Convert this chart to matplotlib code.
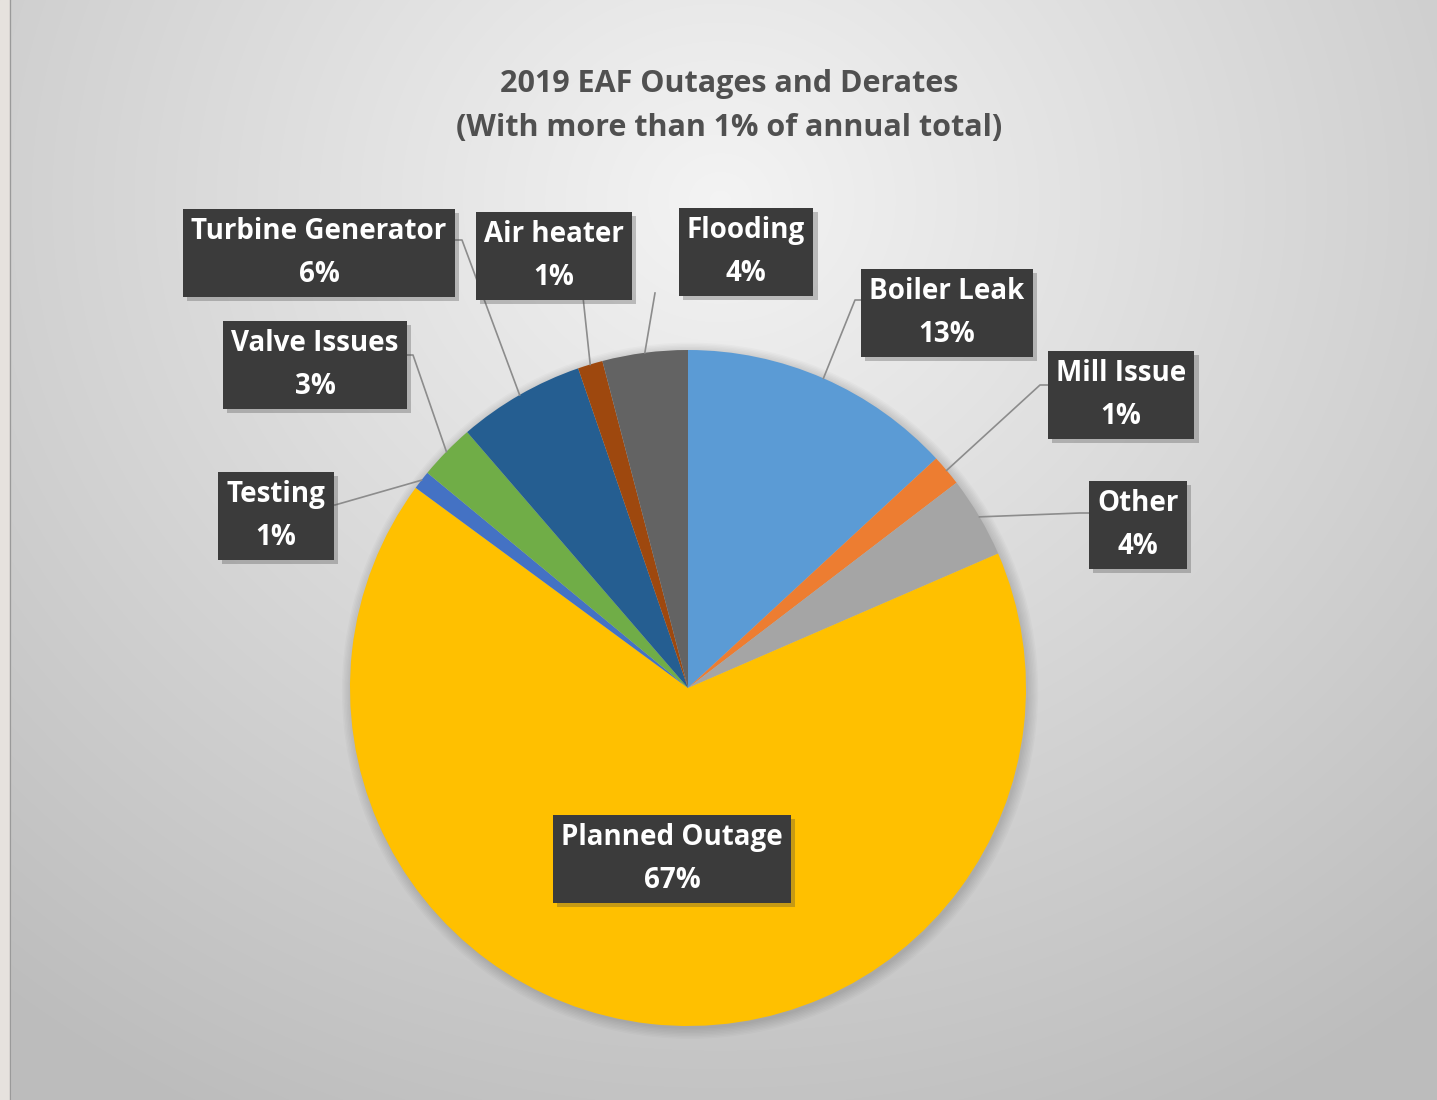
import numpy as np
import matplotlib
matplotlib.use('Agg')
import matplotlib.pyplot as plt
from matplotlib.lines import Line2D
from matplotlib.patches import Circle
import matplotlib.patheffects as pe

# data (clockwise from 12 o'clock)
labels = ['Boiler Leak', 'Mill Issue', 'Other', 'Planned Outage', 'Testing',
          'Valve Issues', 'Turbine Generator', 'Air heater', 'Flooding']
shares = [13.2, 1.5, 3.9, 67.0, 0.9, 2.7, 6.1, 1.2, 4.1]
pct_text = ['13%', '1%', '4%', '67%', '1%', '3%', '6%', '1%', '4%']
colors = ['#5b9bd5', '#ed7d31', '#a5a5a5', '#ffc000', '#4472c4',
          '#70ad47', '#255e91', '#9e480e', '#636363']

W, H = 1437, 1100
fig = plt.figure(figsize=(W / 100, H / 100), dpi=100)

def fpx(x, y):
    return x / W, 1 - y / H

# background: soft radial grey gradient
bg = fig.add_axes([0, 0, 1, 1], zorder=-10)
yy, xx = np.mgrid[0:H, 0:W]
d = np.sqrt(((xx - 720) / 1100.0) ** 2 + ((yy - 200) / 1000.0) ** 2)
shade = np.clip(0.955 - 0.21 * d, 0.74, 0.955)
bg.imshow(np.dstack([shade, shade, shade]), extent=[0, W, H, 0], aspect='auto')
bg.axvspan(0, 10, color='#e6e2de')
bg.axvline(10, color='#9a9a9a', lw=1)
bg.set_xlim(0, W)
bg.set_ylim(H, 0)
bg.axis('off')

# pie
cx, cy, r = 688, 688, 338
ax = fig.add_axes([(cx - r) / W, 1 - (cy + r) / H, 2 * r / W, 2 * r / H])
# faint soft shadow behind the pie
for k in np.linspace(1.0, 1.03, 8):
    ax.add_patch(Circle((0.006, -0.008), k, color='#000000', alpha=0.018, lw=0,
                        zorder=0, clip_on=False))
wedges, _ = ax.pie(shares, colors=colors, startangle=90, counterclock=False,
                   radius=1, wedgeprops=dict(linewidth=0, zorder=1))
ax.set_xlim(-1, 1)
ax.set_ylim(-1, 1)
ax.set_aspect('equal')
ax.axis('off')

# label box centres and connector elbows (pixels)
boxes = {
    'Boiler Leak': (947, 311, (855, 300), (866, 300)),
    'Mill Issue': (1121, 393, (1040, 385), (1049, 385)),
    'Other': (1138, 523, (1080, 513), (1091, 513)),
    'Planned Outage': (672, 857, None, None),
    'Testing': (276, 514, (335, 505), (330, 505)),
    'Valve Issues': (315, 363, (413, 355), (405, 355)),
    'Turbine Generator': (319, 251, (462, 240), (453, 240)),
    'Air heater': (554, 254, (583, 297), (583, 297)),
    'Flooding': (746, 250, (655, 293), (655, 293)),
}

box_font = dict(family=['Open Sans', 'DejaVu Sans'], weight='bold', size=20, color='white')
shadow = [pe.withSimplePatchShadow(offset=(3, -3), shadow_rgbFace='#444444', alpha=0.3)]

for w, lab, pt in zip(wedges, labels, pct_text):
    bx, by, elbow, end = boxes[lab]
    t = fig.text(*fpx(bx, by + 2), lab + '\n' + pt, ha='center', va='center',
                 linespacing=1.6, zorder=10, **box_font,
                 bbox=dict(boxstyle='square,pad=0.3', fc='#3b3b3b', ec='none'))
    t.get_bbox_patch().set_path_effects(shadow)
    if elbow is None:
        continue
    mid = np.deg2rad((w.theta1 + w.theta2) / 2)
    sx, sy = ax.transData.transform((np.cos(mid), np.sin(mid)))
    sx, sy = sx / W, sy / H
    ex, ey = fpx(*elbow)
    tx, ty = fpx(*end)
    fig.add_artist(Line2D([sx, ex, tx], [sy, ey, ty], transform=fig.transFigure,
                          color='#8c8c8c', lw=1.2, zorder=5))

# title
fig.text(*fpx(729, 106), '2019 EAF Outages and Derates\n(With more than 1% of annual total)',
         ha='center', va='center', linespacing=1.6, fontsize=22, color='#505050',
         family=['Open Sans', 'DejaVu Sans'], weight='bold')

fig.savefig('out.png', dpi=100)
